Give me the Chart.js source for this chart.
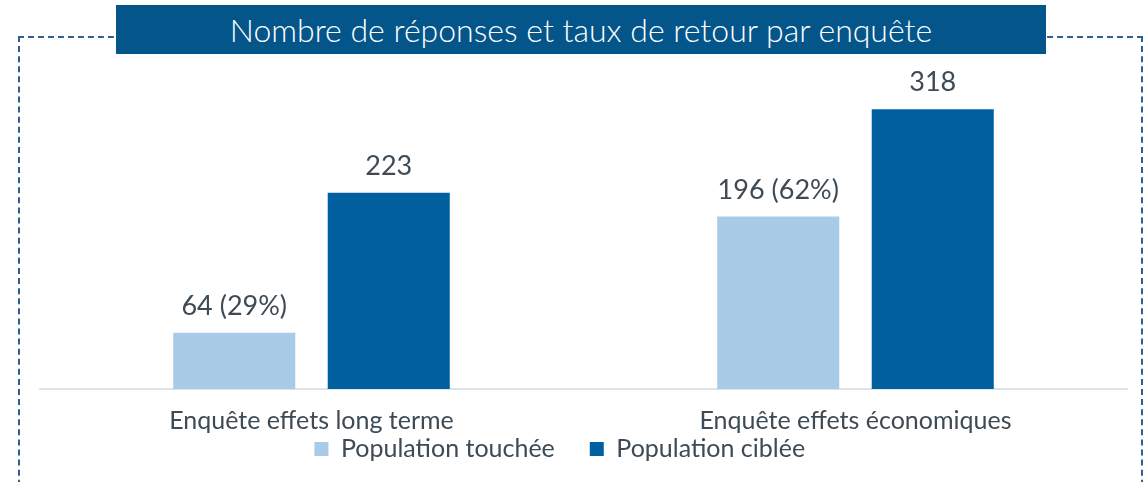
<!DOCTYPE html>
<html><head><meta charset="utf-8">
<script src="https://cdn.jsdelivr.net/npm/chart.js@4.4.1/dist/chart.umd.min.js"></script>
<style>
html,body{margin:0;padding:0;width:1145px;height:482px;overflow:hidden;background:#fff;font-family:Lato,sans-serif;}
#frame{position:absolute;left:18px;top:36px;width:1125px;height:480px;border:2px dashed #2f6090;box-sizing:border-box;}
#title{position:absolute;left:116px;top:5px;width:930px;height:49px;background:#04558a;color:#fff;font:300 32px Lato,sans-serif;display:flex;align-items:center;justify-content:center;}
#wrap{position:absolute;left:-8px;top:0;width:1153px;height:523px;}
</style></head><body>
<div id="frame"></div>
<div id="wrap"><canvas id="c"></canvas></div>
<div id="title">Nombre de réponses et taux de retour par enquête</div>
<script>
const categories = ["Enquête effets long terme", "Enquête effets économiques"];
const seriesNames = ["Population touchée", "Population ciblée"];
const touchee = [64, 196];
const ciblee = [223, 318];
const tauxRetour = [29, 62];

const textColor = '#3e4a54';
const FONT = 'Lato';

const valueLabels = {
  id: 'valueLabels',
  afterDatasetsDraw(chart) {
    const ctx = chart.ctx;
    ctx.save();
    ctx.font = '27px ' + FONT;
    ctx.fillStyle = textColor;
    ctx.textAlign = 'center';
    ctx.textBaseline = 'alphabetic';
    chart.data.datasets.forEach((ds, i) => {
      chart.getDatasetMeta(i).data.forEach((bar, j) => {
        const v = ds.data[j];
        const t = i === 0 ? v + ' (' + tauxRetour[j] + '%)' : String(v);
        ctx.fillText(t, bar.x, bar.y - 18);
      });
    });
    ctx.restore();
  }
};

// pull the legend row up closer to the category labels
const legendLift = {
  id: 'legendLift',
  afterLayout(chart) {
    const lg = chart.legend;
    if (lg) { lg.top -= 51.5; lg.bottom -= 51.5; }
  }
};

new Chart(document.getElementById('c'), {
  type: 'bar',
  data: {
    labels: categories,
    datasets: [
      { label: seriesNames[0], data: touchee, backgroundColor: '#a9cbe8' },
      { label: seriesNames[1], data: ciblee, backgroundColor: '#0360a0' }
    ]
  },
  options: {
    responsive: true,
    maintainAspectRatio: false,
    animation: false,
    layout: { padding: { top: 81, right: 17.5, bottom: 0, left: 0 } },
    datasets: { bar: { categoryPercentage: 0.568, barPercentage: 0.79 } },
    scales: {
      x: {
        grid: { display: false, drawTicks: false },
        border: { display: true, color: '#dce3e9', width: 2 },
        ticks: { color: textColor, font: { family: FONT, size: 25 }, padding: 17 }
      },
      y: {
        min: 0, max: 350,
        display: true,
        grid: { display: false, drawTicks: false },
        border: { display: false },
        ticks: { display: false },
        afterFit(s) { s.width = 47.5; }
      }
    },
    plugins: {
      legend: {
        position: 'bottom',
        labels: { boxWidth: 14, boxHeight: 14, padding: 35, color: textColor, font: { family: FONT, size: 25 } }
      },
      tooltip: { enabled: false }
    }
  },
  plugins: [valueLabels, legendLift]
});
</script>
</body></html>
